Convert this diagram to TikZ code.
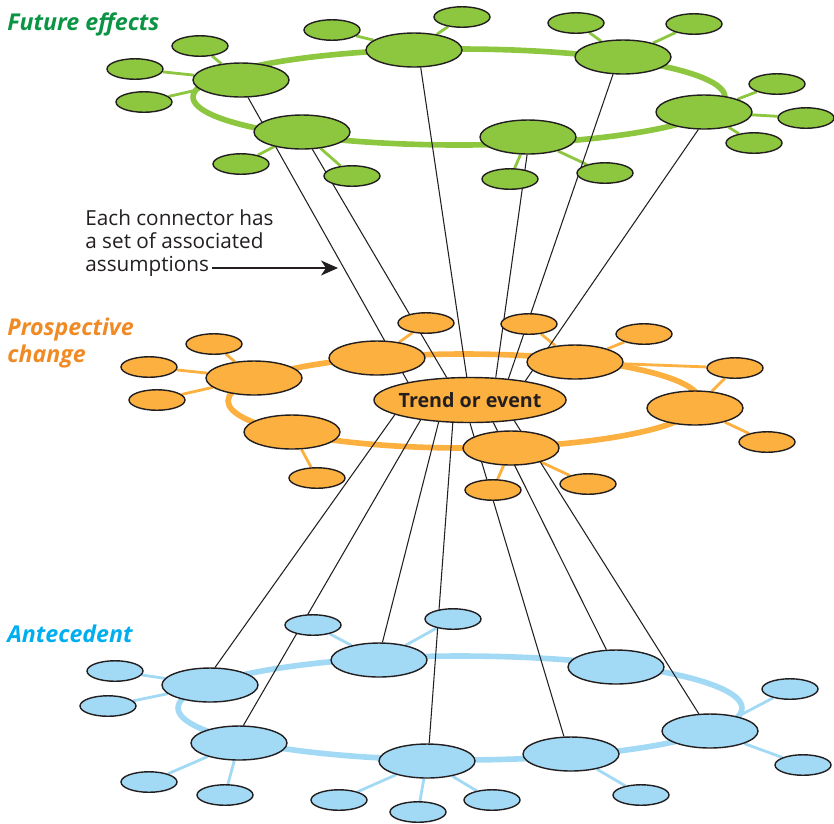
\documentclass[tikz,border=0pt]{standalone}
\usepackage{fontspec}
\setmainfont{Open Sans}
\usetikzlibrary{shapes.geometric,backgrounds,arrows.meta}
\definecolor{leaf}{HTML}{8DC63F}
\definecolor{leafdark}{HTML}{0B9444}
\definecolor{amber}{HTML}{FBB040}
\definecolor{amberdark}{HTML}{F08A24}
\definecolor{sky}{HTML}{A2D9F4}
\definecolor{skydark}{HTML}{00AEEF}
\definecolor{ink}{HTML}{231F20}
\begin{document}
\begin{tikzpicture}[x=0.02cm,y=-0.02cm,
	hub/.style={ellipse, draw=ink, line width=0.8pt, inner sep=0pt, minimum width=1.92cm, minimum height=0.68cm},
	sat/.style={ellipse, draw=ink, line width=0.8pt, inner sep=0pt, minimum width=1.12cm, minimum height=0.41cm},
	ring/.style={line width=3.2pt},
	spoke/.style={line width=1.6pt},
	link/.style={draw=ink, line width=0.6pt},
	title/.style={inner sep=0pt, align=left, font=\fontsize{13.2}{15.3}\selectfont\bfseries\itshape}]
	\useasboundingbox (0,0) rectangle (834,823);

	\node (future) at (7,30)	[title, anchor=base west, text=leafdark]	{Future effects};
	\node (prospect) at (7,318)	[title, anchor=north west, text=amberdark]	{Prospective\\change};
	\node (antecedent) at (7,642)	[title, anchor=base west, text=skydark]	{Antecedent};
	\node (note) at (85,209)	[anchor=north west, align=left, inner sep=0pt, text=ink, font=\fontsize{11.8}{13.3}\selectfont]	{Each connector has\\a set of associated\\assumptions};

	\node (F1) at (241, 80)	[hub, fill=leaf]	{};
	\node (F2) at (302,132)	[hub, fill=leaf]	{};
	\node (F3) at (414, 50)	[hub, fill=leaf]	{};
	\node (F4) at (623, 57)	[hub, fill=leaf]	{};
	\node (F5) at (704,112)	[hub, fill=leaf]	{};
	\node (F6) at (528,137)	[hub, fill=leaf]	{};
	\node (f1) at (200, 46)	[sat, fill=leaf]	{};
	\node (f2) at (135, 69)	[sat, fill=leaf]	{};
	\node (f3) at (144,102)	[sat, fill=leaf]	{};
	\node (f4) at (332, 30)	[sat, fill=leaf]	{};
	\node (f5) at (462, 17)	[sat, fill=leaf]	{};
	\node (f6) at (576, 23)	[sat, fill=leaf]	{};
	\node (f7) at (694, 24)	[sat, fill=leaf]	{};
	\node (f8) at (777, 84)	[sat, fill=leaf]	{};
	\node (f9) at (806,118)	[sat, fill=leaf]	{};
	\node (f10) at (754,143)	[sat, fill=leaf]	{};
	\node (f11) at (510,179)	[sat, fill=leaf]	{};
	\node (f12) at (605,173)	[sat, fill=leaf]	{};
	\node (f13) at (241,164)	[sat, fill=leaf]	{};
	\node (f14) at (352,176)	[sat, fill=leaf]	{};

	\node (P1) at (254,378)	[hub, fill=amber]	{};
	\node (P2) at (292,432)	[hub, fill=amber]	{};
	\node (P3) at (377,358)	[hub, fill=amber]	{};
	\node (P4) at (575,362)	[hub, fill=amber]	{};
	\node (P5) at (695,408)	[hub, fill=amber]	{};
	\node (P6) at (511,448)	[hub, fill=amber]	{};
	\node (p1) at (214,344)	[sat, fill=amber]	{};
	\node (p2) at (149,367)	[sat, fill=amber]	{};
	\node (p3) at (157,400)	[sat, fill=amber]	{};
	\node (p4) at (317,478)	[sat, fill=amber]	{};
	\node (p5) at (426,323)	[sat, fill=amber]	{};
	\node (p6) at (529,324)	[sat, fill=amber]	{};
	\node (p7) at (644,334)	[sat, fill=amber]	{};
	\node (p8) at (735,368)	[sat, fill=amber]	{};
	\node (p9) at (767,442)	[sat, fill=amber]	{};
	\node (p10) at (588,484)	[sat, fill=amber]	{};
	\node (p11) at (493,490)	[sat, fill=amber]	{};
	\node (T) at (470,400)	[ellipse, draw=ink, line width=0.8pt, fill=amber, text=ink, inner xsep=-2pt, inner ysep=0pt, minimum width=3.8cm, minimum height=0.9cm, font=\fontsize{11.2}{13}\selectfont\bfseries]	{Trend or event};

	\node (A1) at (210,685)	[hub, fill=sky]	{};
	\node (A2) at (239,743)	[hub, fill=sky]	{};
	\node (A3) at (379,660)	[hub, fill=sky]	{};
	\node (A4) at (616,667)	[hub, fill=sky]	{};
	\node (A5) at (710,731)	[hub, fill=sky]	{};
	\node (A6) at (571,754)	[hub, fill=sky]	{};
	\node (A7) at (427,761)	[hub, fill=sky]	{};
	\node (a1) at (115,671)	[sat, fill=sky]	{};
	\node (a2) at (108,706)	[sat, fill=sky]	{};
	\node (a3) at (149,782)	[sat, fill=sky]	{};
	\node (a4) at (225,795)	[sat, fill=sky]	{};
	\node (a5) at (313,625)	[sat, fill=sky]	{};
	\node (a6) at (453,619)	[sat, fill=sky]	{};
	\node (a7) at (339,800)	[sat, fill=sky]	{};
	\node (a8) at (492,800)	[sat, fill=sky]	{};
	\node (a9) at (418,812)	[sat, fill=sky]	{};
	\node (a10) at (641,795)	[sat, fill=sky]	{};
	\node (a11) at (790,689)	[sat, fill=sky]	{};
	\node (a12) at (803,765)	[sat, fill=sky]	{};

	\coordinate (tail) at (212,268);
	\coordinate (tip) at (338,268);
	\draw[ink, line width=1pt, -{Stealth[length=3.4mm, width=3mm, inset=1mm]}] (tail) -- (tip);

	\begin{scope}[on background layer]
		\draw[ring, leaf] (459,97) ellipse [x radius=5.32cm, y radius=0.96cm];
		\draw[ring, amber] (464,401) ellipse [x radius=4.72cm, y radius=0.94cm];
		\draw[ring, sky] (460,708) ellipse [x radius=5.64cm, y radius=1.04cm];

		\draw[spoke, leaf] (f1) -- (F1);
		\draw[spoke, leaf] (f2) -- (F1);
		\draw[spoke, leaf] (f3) -- (F1);
		\draw[spoke, leaf] (f4) -- (F3);
		\draw[spoke, leaf] (f5) -- (F3);
		\draw[spoke, leaf] (f6) -- (F4);
		\draw[spoke, leaf] (f7) -- (F4);
		\draw[spoke, leaf] (f8) -- (F5);
		\draw[spoke, leaf] (f9) -- (F5);
		\draw[spoke, leaf] (f10) -- (F5);
		\draw[spoke, leaf] (f11) -- (F6);
		\draw[spoke, leaf] (f12) -- (F6);
		\draw[spoke, leaf] (f13) -- (F2);
		\draw[spoke, leaf] (f14) -- (F2);

		\draw[spoke, amber] (p1) -- (P1);
		\draw[spoke, amber] (p2) -- (P1);
		\draw[spoke, amber] (p3) -- (P1);
		\draw[spoke, amber] (p4) -- (P2);
		\draw[spoke, amber] (p5) -- (P3);
		\draw[spoke, amber] (p6) -- (P4);
		\draw[spoke, amber] (p7) -- (P4);
		\draw[spoke, amber] (p8) -- (P4);
		\draw[spoke, amber] (p8) -- (P5);
		\draw[spoke, amber] (p9) -- (P5);
		\draw[spoke, amber] (p10) -- (P6);
		\draw[spoke, amber] (p11) -- (P6);

		\draw[spoke, sky] (a1) -- (A1);
		\draw[spoke, sky] (a2) -- (A1);
		\draw[spoke, sky] (a3) -- (A2);
		\draw[spoke, sky] (a4) -- (A2);
		\draw[spoke, sky] (a5) -- (A3);
		\draw[spoke, sky] (a6) -- (A3);
		\draw[spoke, sky] (a7) -- (A7);
		\draw[spoke, sky] (a8) -- (A7);
		\draw[spoke, sky] (a9) -- (A7);
		\draw[spoke, sky] (a10) -- (A6);
		\draw[spoke, sky] (a11) -- (A5);
		\draw[spoke, sky] (a12) -- (A5);

		\draw[link] (F1.-68) -- (T.164);
		\draw[link] (F2.-59) -- (T.136);
		\draw[link] (F3.-69) -- (T.98);
		\draw[link] (F6.-93) -- (T.41);
		\draw[link] (F4.-120) -- (T.29);
		\draw[link] (F5.-108) -- (T.19);
		\draw[link] (T.-169) -- (A1.74);
		\draw[link] (T.-158) -- (A2.76);
		\draw[link] (T.-145) -- (A3.79);
		\draw[link] (T.-127) -- (A7.83);
		\draw[link] (T.-90) -- (A6.112);
		\draw[link] (T.-44) -- (A4.119);
		\draw[link] (T.-25) -- (A5.123);
	\end{scope}
\end{tikzpicture}
\end{document}
